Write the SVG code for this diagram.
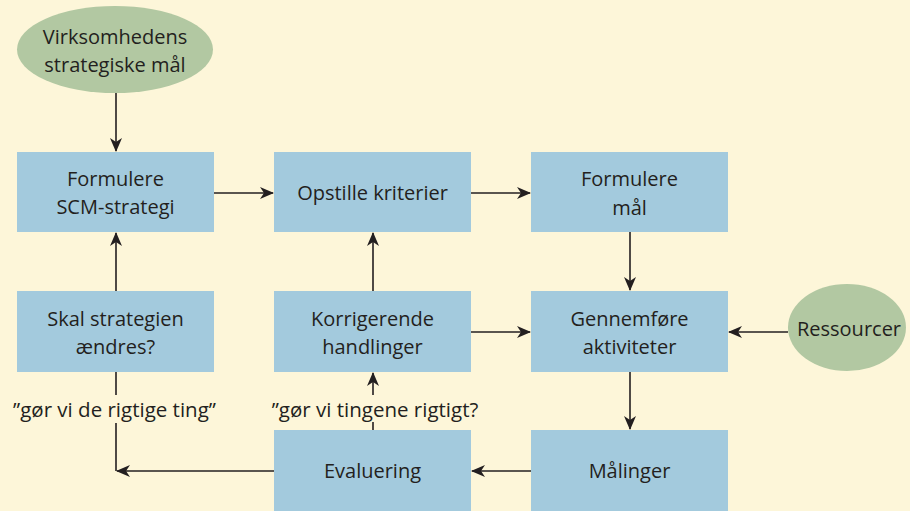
<svg xmlns="http://www.w3.org/2000/svg" width="910" height="511" viewBox="0 0 910 511">
<style>
.box{fill:#a3cadd}
.ell{fill:#b2c8a2}
.t{font-family:"Open Sans","Liberation Sans",Arial,sans-serif;font-size:20px;fill:#231f20;text-anchor:middle}
.lbl{font-size:20.5px}
.c{stroke:#231f20;stroke-width:1.6;fill:none}
</style>
<defs>
<marker id="a" viewBox="0 0 14 12" refX="13" refY="6" markerWidth="14" markerHeight="12" markerUnits="userSpaceOnUse" orient="auto">
<path d="M0,0 L14,6 L0,12 L4,6 Z" fill="#231f20"/>
</marker>
</defs>
<rect width="910" height="511" fill="#fdf6d9"/>
<g id="connectors">
<path class="c" d="M116,93 V151" marker-end="url(#a)"/>
<path class="c" d="M214,193 H273" marker-end="url(#a)"/>
<path class="c" d="M471,193 H530" marker-end="url(#a)"/>
<path class="c" d="M630,232 V290" marker-end="url(#a)"/>
<path class="c" d="M471,332 H530" marker-end="url(#a)"/>
<path class="c" d="M788,332 H729" marker-end="url(#a)"/>
<path class="c" d="M630,372 V429" marker-end="url(#a)"/>
<path class="c" d="M531,471 H472" marker-end="url(#a)"/>
<path class="c" d="M274,471 H117" marker-end="url(#a)"/>
<path class="c" d="M116,471 V423"/>
<path class="c" d="M116,395 V372"/>
<path class="c" d="M116,291 V233" marker-end="url(#a)"/>
<path class="c" d="M373,430 V422"/>
<path class="c" d="M373,395 V373" marker-end="url(#a)"/>
<path class="c" d="M373,291 V233" marker-end="url(#a)"/>
</g>
<g id="n-virksomhedens">
<ellipse class="ell" cx="115" cy="49.5" rx="98" ry="43.5"/>
<text class="t" x="115" y="43.5">Virksomhedens</text>
<text class="t" x="115" y="71.5">strategiske mål</text>
</g>
<g id="n-formulere-scm">
<rect class="box" x="17" y="152" width="197" height="80"/>
<text class="t" x="115.5" y="186">Formulere</text>
<text class="t" x="115.5" y="213.5">SCM-strategi</text>
</g>
<g id="n-opstille">
<rect class="box" x="274" y="152" width="197" height="80"/>
<text class="t" x="372.5" y="199.5">Opstille kriterier</text>
</g>
<g id="n-formulere-maal">
<rect class="box" x="531" y="152" width="197" height="80"/>
<text class="t" x="629.5" y="186">Formulere</text>
<text class="t" x="629.5" y="215">mål</text>
</g>
<g id="n-skal">
<rect class="box" x="17" y="291" width="197" height="81"/>
<text class="t" x="115.5" y="325.5">Skal strategien</text>
<text class="t" x="115.5" y="353.5">ændres?</text>
</g>
<g id="n-korrigerende">
<rect class="box" x="274" y="291" width="197" height="81"/>
<text class="t" x="372.5" y="325.5">Korrigerende</text>
<text class="t" x="372.5" y="353.5">handlinger</text>
</g>
<g id="n-gennemfoere">
<rect class="box" x="531" y="291" width="197" height="81"/>
<text class="t" x="629.5" y="325.5">Gennemføre</text>
<text class="t" x="629.5" y="353.5">aktiviteter</text>
</g>
<g id="n-ressourcer">
<ellipse class="ell" cx="847" cy="327.5" rx="59" ry="43.5"/>
<text class="t" x="849" y="336">Ressourcer</text>
</g>
<g id="n-evaluering">
<rect class="box" x="274" y="430" width="197" height="81"/>
<text class="t" x="372.5" y="478">Evaluering</text>
</g>
<g id="n-maalinger">
<rect class="box" x="531" y="430" width="197" height="81"/>
<text class="t" x="629.5" y="478">Målinger</text>
</g>
<g id="labels">
<text class="t lbl" x="114.5" y="416.5">”gør vi de rigtige ting”</text>
<text class="t lbl" x="375" y="416.5">”gør vi tingene rigtigt?</text>
</g>
</svg>
